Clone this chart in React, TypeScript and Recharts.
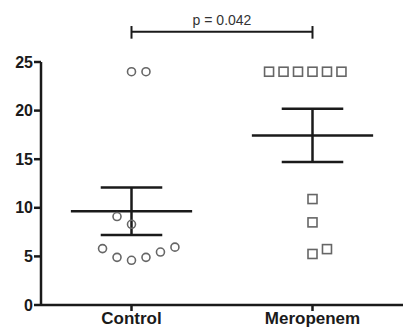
import {
  ComposedChart,
  ReferenceLine,
  Scatter,
  XAxis,
  YAxis,
} from 'recharts'

// Groups and their position on the numeric x axis
const groups = ['Control', 'Meropenem']
const groupPos = [0, 1]

// Individual observations (x = group position + horizontal scatter offset)
const controlX = [0, 0.08, -0.08, 0, -0.16, -0.08, 0, 0.08, 0.16, 0.24]
const controlY = [24, 24, 9.1, 8.3, 5.8, 4.9, 4.6, 4.9, 5.45, 5.95]
const meropenemX = [-0.24, -0.16, -0.08, 0, 0.08, 0.16, 0, 0, 0, 0.08]
const meropenemY = [24, 24, 24, 24, 24, 24, 10.9, 8.5, 5.25, 5.75]

// Mean ± SEM per group
const means = [9.65, 17.45]
const sems = [2.45, 2.75]

const yTicks = [0, 5, 10, 15, 20, 25]
const pLabel = 'p = 0.042'
const bracketY = 28.1

const controlData = controlX.map((x, i) => ({ x, y: controlY[i] }))
const meropenemData = meropenemX.map((x, i) => ({ x: 1 + x, y: meropenemY[i] }))

const ink = '#1a1a1a'
const dotColor = '#666'

function OpenCircle(props: any) {
  const { cx, cy } = props
  return <circle cx={cx} cy={cy} r={4} fill="none" stroke={dotColor} strokeWidth={1.6} />
}

function OpenSquare(props: any) {
  const { cx, cy } = props
  return (
    <rect x={cx - 4.5} y={cy - 4.5} width={9} height={9} fill="none" stroke={dotColor} strokeWidth={1.6} />
  )
}

export default function App() {
  const font = '"Liberation Sans", Arial, sans-serif'
  return (
    <div style={{ position: 'absolute', left: 0, top: 0, width: 403, height: 333, background: '#fff' }}>
      <ComposedChart width={403} height={333} margin={{ top: 62, right: 0, bottom: 2, left: 0 }}>
        <XAxis
          dataKey="x"
          type="number"
          domain={[-0.5, 1.5]}
          ticks={groupPos}
          tickFormatter={(v: number) => groups[Math.round(v)]}
          axisLine={{ stroke: ink, strokeWidth: 2.5 }}
          tickLine={{ stroke: ink, strokeWidth: 2.5 }}
          tickSize={6}
          tickMargin={1}
          tick={{ fill: ink, fontSize: 17, fontWeight: 'bold', fontFamily: font }}
          height={26}
          allowDataOverflow
        />
        <YAxis
          dataKey="y"
          type="number"
          domain={[0, 25]}
          ticks={yTicks}
          axisLine={{ stroke: ink, strokeWidth: 2.5 }}
          tickLine={{ stroke: ink, strokeWidth: 2.5 }}
          tickSize={7}
          tickMargin={1}
          tick={{ fill: ink, fontSize: 16, fontWeight: 'bold', fontFamily: font }}
          width={41}
        />
        <Scatter data={controlData} shape={OpenCircle} isAnimationActive={false} />
        <Scatter data={meropenemData} shape={OpenSquare} isAnimationActive={false} />
        {groupPos.map((g, i) => (
          <ReferenceLine
            key={'mean' + i}
            segment={[{ x: g - 0.335, y: means[i] }, { x: g + 0.335, y: means[i] }]}
            stroke={ink}
            strokeWidth={2.5}
          />
        ))}
        {groupPos.map((g, i) => (
          <ReferenceLine
            key={'up' + i}
            segment={[{ x: g - 0.17, y: means[i] + sems[i] }, { x: g + 0.17, y: means[i] + sems[i] }]}
            stroke={ink}
            strokeWidth={2.5}
          />
        ))}
        {groupPos.map((g, i) => (
          <ReferenceLine
            key={'lo' + i}
            segment={[{ x: g - 0.17, y: means[i] - sems[i] }, { x: g + 0.17, y: means[i] - sems[i] }]}
            stroke={ink}
            strokeWidth={2.5}
          />
        ))}
        {groupPos.map((g, i) => (
          <ReferenceLine
            key={'v' + i}
            segment={[{ x: g, y: means[i] - sems[i] }, { x: g, y: means[i] + sems[i] }]}
            stroke={ink}
            strokeWidth={2.5}
          />
        ))}
        <ReferenceLine
          segment={[{ x: groupPos[0], y: bracketY }, { x: groupPos[1], y: bracketY }]}
          stroke={ink}
          strokeWidth={2}
          ifOverflow="visible"
          label={{ value: pLabel, position: 'top', offset: 7, fill: '#333', fontSize: 14, fontFamily: font }}
        />
        {groupPos.map((g, i) => (
          <ReferenceLine
            key={'bt' + i}
            segment={[{ x: g, y: bracketY - 0.7 }, { x: g, y: bracketY + 0.6 }]}
            stroke={ink}
            strokeWidth={2}
            ifOverflow="visible"
          />
        ))}
      </ComposedChart>
    </div>
  )
}
